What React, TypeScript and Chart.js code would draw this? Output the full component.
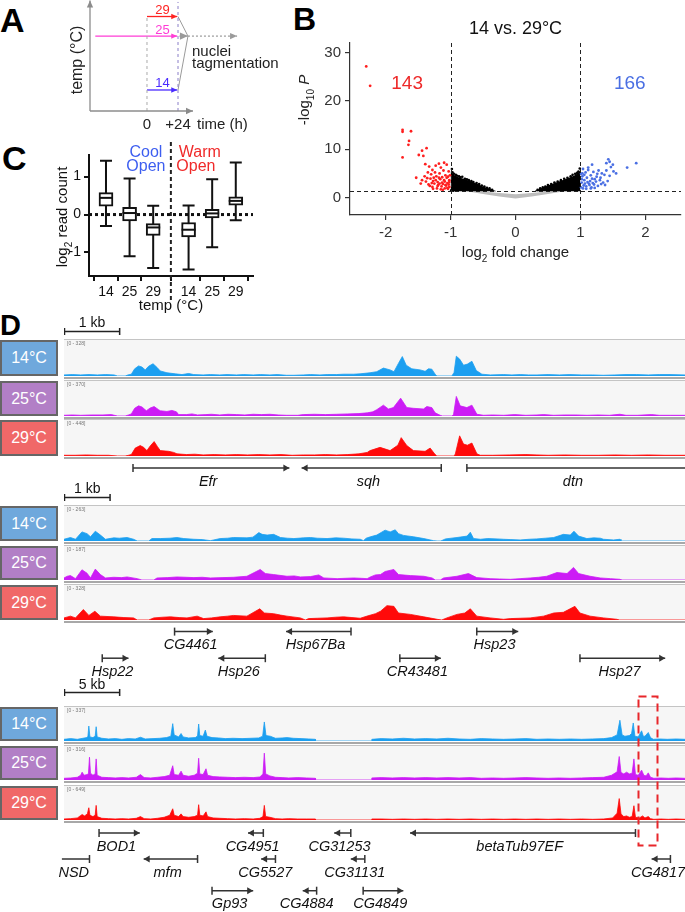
import React, { useEffect, useRef } from 'react';
import { Chart, registerables } from 'chart.js';
Chart.register(...registerables);

const FONT = '"Liberation Sans", Arial, Helvetica, sans-serif';

/* ================= Panel A (schematic) ================= */
const A_TEMPS = [29, 25, 14];
const A_TEMP_COLORS = ['#ff2222', '#ff3cd6', '#4a2bff'];
const A_TEMP_START_H = [0, -40, 0];
const A_SHIFT_END_H = 24;
const A_MERGE_H = 31.7;
const A_TAG_END_H = 69.7;
const A_AXIS_END_H = 35.6;
const A_XTICK_VALUES = [0, 24];
const A_XTICK_LABELS = ['0', '+24'];

/* ================= Panel B (volcano) ================= */
const B_XTICKS = [-2, -1, 0, 1, 2];
const B_YTICKS = [0, 10, 20, 30];
const B_FC_THRESHOLDS = [-1, 1];
const B_P_THRESHOLD = 1.3;
const B_COUNTS = ['143', '166'];
const B_COUNT_POS = [[-1.67, 23.8], [1.76, 23.8]];
const B_RED = [
  [-2.30, 27.1], [-2.24, 23.1], [-1.74, 14.0], [-1.74, 13.6], [-1.61, 13.7], [-1.64, 11.7], [-1.65, 10.9], [-1.74, 8.3],
  [-1.44, 9.7], [-1.37, 10.2], [-1.49, 8.8], [-1.42, 8.6], [-1.39, 6.9], [-1.53, 4.1], [-1.44, 3.6], [-1.33, 6.4],
  [-1.28, 5.7], [-1.18, 7.0], [-1.10, 7.2], [-1.23, 6.6], [-1.15, 6.2], [-1.06, 6.8], [-1.30, 4.8], [-1.35, 5.2],
  [-1.27, 3.4], [-1.22, 4.4], [-1.20, 3.2], [-1.17, 5.0], [-1.13, 4.2], [-1.12, 2.8], [-1.10, 3.6], [-1.08, 4.6],
  [-1.05, 3.0], [-1.03, 5.4], [-1.02, 2.2], [-1.04, 1.8], [-1.07, 2.5], [-1.09, 1.9], [-1.14, 2.3], [-1.16, 3.8],
  [-1.19, 2.6], [-1.21, 1.9], [-1.25, 2.9], [-1.28, 2.2], [-1.31, 3.9], [-1.34, 2.7], [-1.38, 3.3], [-1.40, 4.4],
  [-1.46, 2.9], [-1.36, 4.0], [-1.24, 5.2], [-1.11, 5.6], [-1.06, 4.1], [-1.02, 3.6], [-1.01, 4.6], [-1.03, 2.7],
  [-1.13, 3.1], [-1.18, 4.1], [-1.26, 4.1], [-1.29, 3.0], [-1.09, 3.3], [-1.05, 2.0], [-1.20, 2.4], [-1.15, 1.7],
  [-1.32, 2.4], [-1.23, 3.6], [-1.08, 2.6], [-1.12, 1.6], [-1.17, 2.9], [-1.27, 1.8], [-1.02, 3.2], [-1.04, 4.3]
];
const B_BLUE = [
  [1.86, 7.1], [1.72, 6.2], [1.43, 7.9], [1.45, 7.4], [1.40, 7.1], [1.50, 6.8], [1.51, 5.4], [1.47, 6.3],
  [1.18, 6.8], [1.12, 6.2], [1.33, 5.0], [1.28, 5.6], [1.37, 4.7], [1.25, 4.3], [1.22, 3.8], [1.20, 5.3],
  [1.16, 4.6], [1.15, 3.4], [1.13, 2.9], [1.10, 4.1], [1.08, 5.2], [1.06, 3.6], [1.05, 2.5], [1.03, 4.4],
  [1.02, 3.1], [1.01, 2.1], [1.04, 1.9], [1.07, 2.9], [1.09, 2.3], [1.11, 3.2], [1.14, 2.6], [1.17, 2.1],
  [1.19, 3.0], [1.21, 2.7], [1.24, 3.3], [1.27, 2.4], [1.30, 3.6], [1.32, 2.8], [1.35, 3.1], [1.38, 2.6],
  [1.42, 3.4], [1.26, 4.9], [1.12, 5.7], [1.04, 5.9], [1.03, 5.0], [1.06, 4.7], [1.09, 1.8], [1.16, 1.9],
  [1.22, 2.0], [1.45, 4.5], [1.40, 5.6], [1.55, 5.0], [1.31, 4.1], [1.18, 3.9], [1.02, 3.8], [1.01, 4.9]
];
const B_BLACK = [
  [-0.98, 5.9], [-0.97, 5.2], [-0.95, 4.9], [-0.92, 4.7], [-0.90, 4.5], [-0.87, 4.4], [-0.85, 4.2], [-0.82, 4.3],
  [-0.78, 3.9], [-0.75, 3.8], [-0.72, 3.6], [-0.68, 3.4], [-0.65, 3.2], [-0.60, 3.0], [-0.56, 2.8], [-0.52, 2.5],
  [-0.48, 2.3], [-0.44, 2.0], [-0.40, 1.9], [-0.36, 1.6], [-0.99, 1.5], [-0.96, 1.4],
  [0.34, 1.6], [0.38, 1.9], [0.42, 2.1], [0.46, 2.3], [0.50, 2.6], [0.55, 2.8], [0.60, 3.1], [0.65, 3.3],
  [0.70, 3.6], [0.75, 3.9], [0.80, 4.1], [0.85, 4.4], [0.88, 4.7], [0.92, 4.9], [0.95, 5.1], [0.97, 5.4],
  [0.99, 6.0], [0.98, 4.8]
];
const B_BAND_L_X = [-1.0, -0.95, -0.9, -0.8, -0.7, -0.6, -0.5, -0.4, -0.3];
const B_BAND_L_UP = [5.4, 4.7, 4.3, 3.9, 3.4, 2.9, 2.3, 1.8, 1.35];
const B_BAND_R_X = [0.3, 0.4, 0.5, 0.6, 0.7, 0.8, 0.9, 0.95, 1.0];
const B_BAND_R_UP = [1.4, 2.0, 2.5, 3.0, 3.5, 4.0, 4.5, 5.0, 5.6];
const B_GREY_X = [-0.75, -0.5, -0.25, 0, 0.25, 0.5, 0.75];
const B_GREY_UP = [1.35, 1.25, 0.95, 0.7, 0.95, 1.25, 1.35];
const B_GREY_LO = [1.3, 0.75, 0.2, -0.2, 0.2, 0.75, 1.3];

/* ================= Panel C (box plots) ================= */
const C_POS = [1, 2, 3, 4.5, 5.5, 6.5];
const C_TEMP_LABELS = ['14', '25', '29', '14', '25', '29'];
const C_MIN = [-0.30, -1.10, -1.41, -1.45, -0.86, -0.15];
const C_Q1 = [0.22, -0.17, -0.55, -0.59, -0.09, 0.25];
const C_MED = [0.44, 0.04, -0.34, -0.40, 0.03, 0.36];
const C_Q3 = [0.58, 0.19, -0.24, -0.21, 0.14, 0.47];
const C_MAX = [1.42, 0.95, 0.23, 0.24, 0.93, 1.37];
const C_YTICKS = [-1, 0, 1];
const C_SPLIT = 3.75;

/* ================= Panel D (genome tracks) ================= */
const TEMP_NAMES = ['14°C', '25°C', '29°C'];
const TEMP_BOX_COLORS = ['#6fa8dc', '#b27fc6', '#f06868'];
const TEMP_COV_COLORS = ['#1c9ff0', '#cc1cf5', '#ff0a0a'];

const R1_COV_14 = [[0,3],[0.15,4],[0.3,3],[0.45,4],[0.6,3],[0.75,4],[0.9,3],[0.96,0],[1.1,0],[1.15,3],[1.21,5],[1.27,20],[1.34,28],[1.40,25],[1.46,17],[1.52,27],[1.60,34],[1.67,24],[1.73,14],[1.85,9],[2.0,6],[2.12,4],[2.24,7],[2.33,4],[2.5,3],[2.63,4],[2.8,3],[2.93,4],[3.1,3],[3.23,4],[3.4,3],[3.53,4],[3.7,3],[3.83,4],[4.0,2],[4.13,2],[4.3,3],[4.43,4],[4.6,3],[4.73,4],[4.9,4],[5.02,5],[5.2,5],[5.32,6],[5.5,9],[5.62,12],[5.74,22],[5.86,17],[5.93,12],[6.01,35],[6.08,54],[6.15,30],[6.25,20],[6.40,17],[6.49,13],[6.55,20],[6.61,19],[6.67,5],[6.70,0],[6.97,0],[7.01,10],[7.05,55],[7.11,47],[7.18,30],[7.25,33],[7.33,41],[7.41,15],[7.51,5],[7.66,3],[7.9,4],[8.05,3],[8.2,4],[8.35,3],[8.5,3],[8.7,4],[8.9,3],[9.09,4],[9.3,3],[9.5,3],[9.69,2],[9.9,3],[10.1,4],[10.29,4],[10.5,3],[10.7,4],[10.89,4],[11.16,3]];
const R1_COV_25 = [[0,2],[0.15,3],[0.3,2],[0.5,3],[0.7,3],[0.85,4],[0.96,0],[1.1,0],[1.16,3],[1.21,6],[1.27,22],[1.34,29],[1.40,26],[1.48,15],[1.55,23],[1.62,27],[1.70,18],[1.73,15],[1.85,13],[1.94,16],[2.02,12],[2.06,4],[2.2,4],[2.3,6],[2.4,3],[2.55,4],[2.65,5],[2.8,3],[2.95,5],[3.1,4],[3.25,3],[3.4,5],[3.55,4],[3.7,5],[3.85,3],[4.0,2],[4.2,2],[4.3,4],[4.5,5],[4.7,4],[4.9,5],[5.1,6],[5.3,7],[5.45,9],[5.55,12],[5.62,18],[5.74,31],[5.83,20],[5.92,24],[6.05,51],[6.16,24],[6.28,22],[6.46,20],[6.52,27],[6.61,24],[6.67,9],[6.76,2],[6.80,0],[6.97,0],[7.0,4],[7.05,56],[7.12,29],[7.24,24],[7.33,31],[7.42,5],[7.54,2],[7.7,3],[7.9,2],[8.1,4],[8.3,2],[8.5,3],[8.62,4],[8.8,2],[9.0,3],[9.2,3],[9.4,2],[9.6,3],[9.8,2],[9.99,5],[10.1,2],[10.3,2],[10.56,4],[10.7,2],[10.9,2],[11.16,2]];
const R1_COV_29 = [[0,2],[0.2,2],[0.4,3],[0.6,2],[0.8,2],[0.96,0],[1.1,0],[1.16,2],[1.21,4],[1.28,22],[1.37,29],[1.43,24],[1.49,15],[1.55,28],[1.62,40],[1.68,26],[1.73,15],[1.88,13],[1.97,10],[2.03,6],[2.2,4],[2.35,5],[2.5,3],[2.7,4],[2.9,3],[3.1,4],[3.3,3],[3.5,4],[3.7,3],[3.9,4],[4.1,2],[4.3,3],[4.5,3],[4.7,4],[4.9,3],[5.1,4],[5.3,6],[5.45,10],[5.50,15],[5.68,24],[5.86,15],[6.00,30],[6.06,51],[6.16,29],[6.28,15],[6.49,13],[6.58,22],[6.66,6],[6.70,0],[7.0,0],[7.03,4],[7.11,56],[7.18,33],[7.25,30],[7.33,36],[7.42,6],[7.48,2],[7.7,2],[8.0,3],[8.3,4],[8.5,3],[8.7,2],[9.0,3],[9.3,2],[9.6,2],[9.9,3],[10.2,2],[10.5,3],[10.8,2],[11.16,2]];

const R2_COV_14 = [[0,5],[0.14,10],[0.25,5],[0.39,26],[0.50,21],[0.575,12],[0.68,28],[0.79,17],[0.90,5],[1.08,9],[1.2,8],[1.37,10],[1.51,5],[1.59,0],[1.84,0],[1.91,7],[2.09,7],[2.3,8],[2.45,10],[2.6,7],[2.82,5],[3.0,4],[3.18,1],[3.39,7],[3.55,8],[3.68,10],[3.97,9],[4.1,11],[4.23,24],[4.30,19],[4.41,17],[4.55,19],[4.70,10],[4.85,8],[4.99,7],[5.2,9],[5.35,10],[5.5,8],[5.71,7],[5.9,9],[6.07,8],[6.25,6],[6.43,5],[6.50,1],[6.56,8],[6.65,12],[6.79,17],[6.97,31],[7.08,26],[7.19,32],[7.26,21],[7.37,16],[7.59,12],[7.81,7],[8.02,1],[8.10,0],[8.18,0],[8.28,6],[8.53,10],[8.75,14],[8.82,25],[8.89,7],[9.04,5],[9.2,7],[9.40,6],[9.54,5],[9.7,4],[9.90,3],[10.1,5],[10.26,6],[10.45,8],[10.63,10],[10.84,19],[10.99,17],[11.07,28],[11.17,14],[11.35,7],[11.5,9],[11.64,8],[11.71,5],[11.93,3],[12.07,5],[12.09,0],[13.48,0]];
const R2_COV_25 = [[0,6],[0.07,11],[0.14,13],[0.25,4],[0.39,30],[0.50,20],[0.575,6],[0.68,32],[0.79,16],[0.90,6],[1.08,8],[1.25,7],[1.37,9],[1.59,4],[1.69,0],[1.95,0],[2.02,6],[2.25,7],[2.45,9],[2.65,8],[2.82,7],[3.0,8],[3.18,6],[3.45,7],[3.68,8],[3.97,11],[4.26,31],[4.37,19],[4.55,16],[4.84,11],[5.0,12],[5.13,9],[5.35,10],[5.53,15],[5.64,6],[5.93,4],[6.1,5],[6.29,6],[6.45,5],[6.58,4],[6.65,9],[6.76,15],[6.87,16],[6.97,25],[7.16,31],[7.26,16],[7.52,13],[7.81,11],[7.99,6],[8.06,0],[8.17,0],[8.24,6],[8.53,11],[8.78,19],[8.96,7],[9.25,4],[9.45,3],[9.69,2],[9.9,4],[10.12,6],[10.3,8],[10.48,11],[10.70,22],[10.92,19],[11.06,37],[11.17,19],[11.42,11],[11.64,6],[11.86,4],[12.07,2],[12.09,0],[13.48,0]];
const R2_COV_29 = [[0,6],[0.14,11],[0.25,6],[0.42,30],[0.54,13],[0.67,25],[0.79,11],[1.08,9],[1.3,7],[1.51,6],[1.59,0],[1.84,0],[1.95,6],[2.15,8],[2.31,9],[2.5,7],[2.67,6],[2.89,11],[3.03,4],[3.2,6],[3.39,9],[3.55,11],[3.68,13],[3.97,11],[4.25,32],[4.35,20],[4.55,18],[4.7,14],[4.84,11],[5.13,6],[5.24,0],[5.31,4],[5.5,5],[5.71,6],[5.9,8],[6.07,9],[6.25,7],[6.43,5],[6.6,12],[6.76,18],[6.87,25],[7.01,41],[7.16,39],[7.26,20],[7.52,16],[7.81,9],[8.10,2],[8.20,0],[8.31,6],[8.53,16],[8.70,20],[8.82,32],[8.96,11],[9.25,6],[9.54,2],[9.69,4],[9.9,5],[10.12,6],[10.41,11],[10.63,20],[10.84,22],[11.09,39],[11.20,20],[11.42,11],[11.71,6],[12.0,2],[12.06,0],[13.48,0]];

const R3_COV_14 = [[0,5],[0.6,7],[1.2,5],[1.7,8],[2.05,10],[2.15,14],[2.23,44],[2.33,12],[2.6,10],[2.8,14],[2.89,42],[2.98,12],[3.4,8],[4.0,6],[4.6,7],[5.2,5],[5.8,7],[6.4,6],[6.87,11],[7.3,6],[8.0,7],[8.6,8],[9.2,10],[9.6,14],[9.77,51],[9.9,18],[10.3,12],[10.52,22],[10.7,12],[11.2,9],[11.8,10],[12.0,15],[12.1,50],[12.2,16],[12.5,14],[12.7,32],[12.85,14],[13.3,10],[13.9,9],[14.5,7],[15.2,8],[16,7],[16.8,8],[17.5,9],[17.85,14],[18.0,56],[18.15,16],[18.54,14],[19,8],[19.6,9],[20.03,10],[20.6,8],[21.3,7],[22.0,6],[22.58,5],[22.6,0],[27.64,0],[27.66,5],[28.5,7],[29.5,6],[30.5,8],[31.5,6],[32.5,7],[33.5,6],[34.5,8],[35.5,6],[36.5,5],[37.5,7],[38.5,6],[39.5,5],[40.5,6],[41.5,7],[42.5,5],[43.5,6],[44.5,5],[45.5,6],[46.5,5],[47.5,6],[48.5,7],[49.2,10],[49.7,18],[49.95,61],[50.15,18],[50.4,14],[50.8,16],[51.0,22],[51.15,53],[51.3,14],[51.6,12],[51.9,30],[52.05,14],[52.2,14],[52.5,25],[52.7,10],[52.95,5],[53.5,6],[54.2,5],[55,6],[55.8,5]];
const R3_COV_25 = [[0,5],[0.6,6],[1.2,8],[1.5,14],[1.63,23],[1.8,14],[2.1,16],[2.2,20],[2.29,67],[2.38,20],[2.6,14],[2.8,18],[2.89,62],[2.98,14],[3.4,8],[4.0,7],[4.6,6],[5.2,7],[5.8,6],[6.5,8],[6.87,16],[7.2,7],[7.8,6],[8.4,8],[9.0,10],[9.5,14],[9.77,42],[9.9,16],[10.3,14],[10.52,26],[10.7,14],[11.2,11],[11.7,14],[12.0,20],[12.1,64],[12.2,18],[12.5,16],[12.76,33],[12.9,14],[13.4,10],[14.0,9],[14.7,8],[15.4,7],[16.2,8],[17.0,7],[17.6,9],[17.88,18],[18.0,79],[18.12,18],[18.5,12],[19.0,8],[19.6,7],[20.2,6],[21,7],[21.8,6],[22.58,5],[22.6,0],[27.64,0],[27.66,6],[28.5,7],[29.5,6],[30.5,7],[31.5,6],[32.5,7],[33.5,6],[34.5,7],[35.5,6],[36.5,7],[37.5,5],[38.5,6],[39.5,5],[40.5,6],[41.5,7],[42.5,6],[43.5,5],[44.5,6],[45.5,5],[46.5,6],[47.5,7],[48.5,8],[49.2,14],[49.7,24],[49.89,69],[50.05,22],[50.3,18],[50.55,23],[50.8,18],[51.05,20],[51.21,62],[51.35,16],[51.6,14],[51.9,29],[52.1,14],[52.3,12],[52.5,21],[52.7,8],[53.0,5],[53.6,6],[54.3,5],[55,6],[55.8,5]];
const R3_COV_29 = [[0,3],[0.6,4],[1.2,6],[1.45,12],[1.63,16],[1.85,12],[2.1,18],[2.23,36],[2.33,14],[2.6,10],[2.8,14],[2.89,43],[2.98,10],[3.4,5],[4.0,4],[4.6,3],[5.2,4],[5.8,3],[6.5,5],[6.87,10],[7.2,4],[7.8,3],[8.4,5],[9.0,8],[9.5,14],[9.77,33],[9.9,14],[10.3,10],[10.52,18],[10.7,10],[11.2,8],[11.7,10],[12.0,14],[12.1,45],[12.2,14],[12.5,12],[12.76,24],[12.9,10],[13.4,6],[14.0,5],[14.7,4],[15.4,3],[16.2,4],[17.0,3],[17.6,5],[17.88,10],[18.0,43],[18.12,10],[18.5,8],[19.0,4],[19.6,3],[20.2,4],[21,3],[21.8,3],[22.58,3],[22.6,0],[27.64,0],[27.66,3],[28.5,3],[29.5,2],[30.5,3],[31.5,2],[32.5,3],[33.5,2],[34.5,3],[35.5,2],[36.5,3],[37.5,2],[38.5,3],[39.5,2],[40.5,3],[41.5,2],[42.5,3],[43.5,2],[44.5,3],[45.5,2],[46.5,3],[47.5,2],[48.5,3],[49.3,6],[49.7,20],[49.89,63],[50.05,18],[50.3,10],[50.55,12],[50.8,8],[51.05,10],[51.21,42],[51.35,8],[51.7,6],[51.99,12],[52.2,6],[52.5,10],[52.7,4],[53.0,2],[53.6,3],[54.3,2],[55,3],[55.8,2]];

const R1_RANGES = ['[0 - 328]', '[0 - 370]', '[0 - 448]'];
const R2_RANGES = ['[0 - 263]', '[0 - 187]', '[0 - 328]'];
const R3_RANGES = ['[0 - 337]', '[0 - 316]', '[0 - 649]'];

const R1_GENE_NAMES = ['Efr', 'sqh', 'dtn'];
const R1_GENE_START = [1.24, 4.27, 7.24];
const R1_GENE_END = [4.05, 6.78, 11.5];
const R1_GENE_ARROW = ['R', 'L', ''];
const R1_GENE_ROW = [1, 1, 1];

const R2_GENE_NAMES = ['CG4461', 'Hsp67Ba', 'Hsp23', 'Hsp22', 'Hsp26', 'CR43481', 'Hsp27'];
const R2_GENE_START = [2.40, 4.82, 8.96, 0.83, 3.35, 7.29, 11.20];
const R2_GENE_END = [3.23, 6.23, 9.86, 1.40, 4.37, 8.18, 13.05];
const R2_GENE_ARROW = ['R', 'L', 'R', 'R', 'L', 'R', 'R'];
const R2_GENE_ROW = [1, 1, 1, 2, 2, 2, 2];

const R3_GENE_NAMES = ['BOD1', 'CG4951', 'CG31253', 'betaTub97EF', 'NSD', 'mfm', 'CG5527', 'CG31131', 'CG4817', 'Gp93', 'CG4884', 'CG4849'];
const R3_GENE_START = [3.15, 16.53, 24.28, 31.09, -0.19, 7.16, 17.71, 25.77, 52.80, 13.30, 21.45, 26.88];
const R3_GENE_END = [6.81, 17.91, 25.77, 51.35, 2.29, 12.0, 19.0, 27.03, 54.49, 17.0, 22.70, 30.49];
const R3_GENE_ARROW = ['R', 'L', 'L', 'L', '', 'L', 'L', 'L', 'L', 'R', 'L', 'R'];
const R3_GENE_ROW = [1, 1, 1, 1, 2, 2, 2, 2, 2, 3.22, 3.22, 3.22];

/* ================= helpers ================= */
const baseOptions = () => ({
  responsive: false,
  maintainAspectRatio: false,
  animation: false,
  devicePixelRatio: 1,
  events: [],
  plugins: { legend: { display: false }, tooltip: { enabled: false }, title: { display: false } },
});

type Seg = { t: string; sub?: boolean; italic?: boolean };
function drawRich(ctx: any, segs: Seg[], x: number, y: number, size: number, rot = 0, align = 'center', color = '#222') {
  ctx.save();
  ctx.translate(x, y);
  ctx.rotate(rot);
  ctx.fillStyle = color;
  ctx.textBaseline = 'alphabetic';
  ctx.textAlign = 'left';
  const fonts = segs.map((s) => `${s.italic ? 'italic ' : ''}${s.sub ? Math.round(size * 0.68) : size}px ${FONT}`);
  let total = 0;
  const widths = segs.map((s, i) => {
    ctx.font = fonts[i];
    const w = ctx.measureText(s.t).width;
    total += w;
    return w;
  });
  let cx = align === 'center' ? -total / 2 : 0;
  const base = size * 0.36;
  segs.forEach((s, i) => {
    ctx.font = fonts[i];
    ctx.fillText(s.t, cx, base + (s.sub ? size * 0.3 : 0));
    cx += widths[i];
  });
  ctx.restore();
}

const arrowPlugin = {
  id: 'arrowHeads',
  afterDatasetsDraw(chart: any) {
    const ctx = chart.ctx;
    chart.data.datasets.forEach((ds: any, i: number) => {
      if (!ds.arrow) return;
      const pts = chart.getDatasetMeta(i).data;
      const a = pts[pts.length - 2];
      const b = pts[pts.length - 1];
      const ang = Math.atan2(b.y - a.y, b.x - a.x);
      const s = ds.arrow;
      ctx.save();
      ctx.translate(b.x, b.y);
      ctx.rotate(ang);
      ctx.fillStyle = ds.arrowColor || ds.borderColor;
      ctx.beginPath();
      ctx.moveTo(0, 0);
      ctx.lineTo(-s, -s * 0.45);
      ctx.lineTo(-s, s * 0.45);
      ctx.closePath();
      ctx.fill();
      ctx.restore();
    });
  },
};

function ChartCanvas({ x, y, w, h, make }: any) {
  const ref = useRef<HTMLCanvasElement | null>(null);
  useEffect(() => {
    const chart = new Chart(ref.current as any, make());
    return () => chart.destroy();
  }, []);
  return (
    <canvas
      ref={ref}
      width={w}
      height={h}
      style={{ position: 'absolute', left: x, top: y, width: w, height: h, display: 'block' }}
    />
  );
}

/* ================= Panel A config ================= */
const A_X_MIN = -44.1, A_X_MAX = 79.7, A_Y_MIN = 9.71, A_Y_MAX = 32.37;
function makeA() {
  const seg = (pts: number[][], color: string, width: number, dash: number[] | null, arrow?: number, arrowColor?: string) => ({
    data: pts.map(([x, y]) => ({ x, y })),
    borderColor: color,
    borderWidth: width,
    borderDash: dash || [],
    pointRadius: 0,
    fill: false,
    tension: 0,
    clip: false,
    arrow,
    arrowColor,
  });
  const ds: any[] = [];
  ds.push(seg([[A_X_MIN, A_Y_MIN], [A_AXIS_END_H, A_Y_MIN]], '#8c8c8c', 1.3, null, 7));
  ds.push(seg([[A_X_MIN, A_Y_MIN], [A_X_MIN, A_Y_MAX - 0.1]], '#8c8c8c', 1.3, null, 7));
  ds.push(seg([[0, A_Y_MIN], [0, A_TEMPS[0]]], '#aaaaaa', 1, [3, 3]));
  ds.push(seg([[A_SHIFT_END_H, A_Y_MIN], [A_SHIFT_END_H, A_Y_MAX - 0.4]], '#8a7fc8', 1, [3, 3]));
  A_TEMPS.forEach((t, i) => {
    ds.push(seg([[A_TEMP_START_H[i], t], [A_SHIFT_END_H - 0.6, t]], A_TEMP_COLORS[i], 1.3, null, 6));
  });
  ds.push(seg([[A_SHIFT_END_H, A_TEMPS[0]], [A_MERGE_H, A_TEMPS[1]]], '#9a9a9a', 1, null));
  ds.push(seg([[A_SHIFT_END_H, A_TEMPS[2]], [A_MERGE_H, A_TEMPS[1]]], '#9a9a9a', 1, null));
  ds.push(seg([[A_SHIFT_END_H + 1, A_TEMPS[1]], [A_MERGE_H, A_TEMPS[1]]], '#9a9a9a', 1, null, 8));
  ds.push(seg([[A_MERGE_H, A_TEMPS[1]], [A_TAG_END_H, A_TEMPS[1]]], '#9a9a9a', 1.2, [2, 2], 7));

  const textPlugin = {
    id: 'aText',
    afterDraw(chart: any) {
      const { ctx, scales, chartArea } = chart;
      const x = scales.x, y = scales.y;
      ctx.save();
      ctx.textAlign = 'center';
      ctx.textBaseline = 'alphabetic';
      A_TEMPS.forEach((t, i) => {
        ctx.fillStyle = A_TEMP_COLORS[i];
        ctx.font = `13px ${FONT}`;
        ctx.fillText(String(t), x.getPixelForValue(A_SHIFT_END_H / 2), y.getPixelForValue(t) - 2.5);
      });
      ctx.fillStyle = '#222';
      ctx.font = `15px ${FONT}`;
      A_XTICK_VALUES.forEach((v, i) => {
        ctx.fillText(A_XTICK_LABELS[i], x.getPixelForValue(v), chartArea.bottom + 17.5);
      });
      ctx.textAlign = 'left';
      ctx.fillText('time (h)', x.getPixelForValue(A_AXIS_END_H) + 4, chartArea.bottom + 17.5);
      const mx = x.getPixelForValue(A_MERGE_H) + 4;
      const my = y.getPixelForValue(A_TEMPS[1]);
      ctx.fillText('nuclei', mx, my + 20);
      ctx.fillText('tagmentation', mx, my + 32);
      ctx.translate(chartArea.left - 12, 60);
      ctx.rotate(-Math.PI / 2);
      ctx.textAlign = 'center';
      ctx.textBaseline = 'middle';
      ctx.font = `16px ${FONT}`;
      ctx.fillText('temp (°C)', 0, 0);
      ctx.restore();
    },
  };

  return {
    type: 'line',
    data: { datasets: ds },
    options: {
      ...baseOptions(),
      layout: { padding: { left: 90, right: 40, top: 0, bottom: 24 } },
      scales: {
        x: { type: 'linear', display: false, min: A_X_MIN, max: A_X_MAX },
        y: { type: 'linear', display: false, min: A_Y_MIN, max: A_Y_MAX },
      },
    },
    plugins: [arrowPlugin, textPlugin],
  };
}

/* ================= Panel B config ================= */
function makeB() {
  const pts = (arr: number[][]) => arr.map(([x, y]) => ({ x, y }));
  const band = (xs: number[], ys: number[]) => xs.map((x, i) => ({ x, y: ys[i] }));
  const datasets: any[] = [
    { type: 'line', data: band(B_GREY_X, B_GREY_UP), borderWidth: 0, pointRadius: 0, fill: false, order: 9, borderColor: 'rgba(0,0,0,0)' },
    { type: 'line', data: band(B_GREY_X, B_GREY_LO), borderWidth: 0, pointRadius: 0, fill: '-1', order: 8, backgroundColor: '#bdbdbd', borderColor: 'rgba(0,0,0,0)' },
    { type: 'line', data: band(B_BAND_L_X, B_BAND_L_UP), borderWidth: 0, pointRadius: 0, fill: false, order: 7, borderColor: 'rgba(0,0,0,0)' },
    { type: 'line', data: band(B_BAND_L_X, B_BAND_L_X.map(() => B_P_THRESHOLD)), borderWidth: 0, pointRadius: 0, fill: '-1', order: 6, backgroundColor: '#000', borderColor: 'rgba(0,0,0,0)' },
    { type: 'line', data: band(B_BAND_R_X, B_BAND_R_UP), borderWidth: 0, pointRadius: 0, fill: false, order: 5, borderColor: 'rgba(0,0,0,0)' },
    { type: 'line', data: band(B_BAND_R_X, B_BAND_R_X.map(() => B_P_THRESHOLD)), borderWidth: 0, pointRadius: 0, fill: '-1', order: 4, backgroundColor: '#000', borderColor: 'rgba(0,0,0,0)' },
    { data: pts(B_BLACK), pointRadius: 1.3, pointBackgroundColor: '#000', pointBorderWidth: 0, order: 3 },
    { data: pts(B_RED), pointRadius: 1.4, pointBackgroundColor: '#ff1f1f', pointBorderWidth: 0, order: 2 },
    { data: pts(B_BLUE), pointRadius: 1.4, pointBackgroundColor: '#4a6fe3', pointBorderWidth: 0, order: 1 },
  ];
  const axisCommon = {
    grid: { display: true, drawOnChartArea: false, drawTicks: true, tickLength: 5, color: '#333', lineWidth: 1.2 },
    border: { display: true, color: '#333', width: 1.2 },
    ticks: { font: { family: FONT, size: 15 }, color: '#333', padding: 4 },
  };
  const plugin = {
    id: 'bText',
    afterDatasetsDraw(chart: any) {
      const { ctx, scales, chartArea } = chart;
      const x = scales.x, y = scales.y;
      ctx.save();
      ctx.strokeStyle = '#222';
      ctx.lineWidth = 1;
      ctx.setLineDash([4, 3]);
      B_FC_THRESHOLDS.forEach((v) => {
        const px = Math.round(x.getPixelForValue(v)) + 0.5;
        ctx.beginPath();
        ctx.moveTo(px, chartArea.top);
        ctx.lineTo(px, chartArea.bottom);
        ctx.stroke();
      });
      const py = Math.round(y.getPixelForValue(B_P_THRESHOLD)) + 0.5;
      ctx.beginPath();
      ctx.moveTo(chartArea.left, py);
      ctx.lineTo(chartArea.right, py);
      ctx.stroke();
      ctx.restore();
    },
    afterDraw(chart: any) {
      const { ctx, scales, chartArea } = chart;
      const x = scales.x, y = scales.y;
      const cx = (chartArea.left + chartArea.right) / 2;
      drawRich(ctx, [{ t: '14 vs. 29°C' }], cx, 28, 18, 0, 'center', '#111');
      const colors = ['#ee2a2a', '#4a6fe3'];
      B_COUNTS.forEach((c, i) => {
        drawRich(ctx, [{ t: c }], x.getPixelForValue(B_COUNT_POS[i][0]), y.getPixelForValue(B_COUNT_POS[i][1]), 19, 0, 'center', colors[i]);
      });
      drawRich(ctx, [{ t: 'log' }, { t: '2', sub: true }, { t: ' fold change' }], cx, 252, 15, 0, 'center', '#222');
      drawRich(ctx, [{ t: '-log' }, { t: '10', sub: true }, { t: ' ' }, { t: 'P', italic: true }], 14, 100, 15, -Math.PI / 2, 'center', '#222');
    },
  };
  return {
    type: 'scatter',
    data: { datasets },
    options: {
      ...baseOptions(),
      layout: { padding: { left: 0, right: 0, top: 43, bottom: 0 } },
      scales: {
        x: {
          type: 'linear', min: -2.55, max: 2.55, ...axisCommon,
          afterBuildTicks: (s: any) => { s.ticks = B_XTICKS.map((v) => ({ value: v })); },
          afterFit: (s: any) => { s.height = 55; },
        },
        y: {
          type: 'linear', min: -3.6, max: 31.94, ...axisCommon,
          afterBuildTicks: (s: any) => { s.ticks = B_YTICKS.map((v) => ({ value: v })); },
          afterFit: (s: any) => { s.width = 60; },
        },
      },
    },
    plugins: [plugin],
  };
}

/* ================= Panel C config ================= */
function makeC() {
  const axisCommon = {
    grid: { display: true, drawOnChartArea: false, drawTicks: true, tickLength: 5, color: '#111', lineWidth: 2 },
    border: { display: true, color: '#111', width: 2 },
    ticks: { font: { family: FONT, size: 14 }, color: '#111' },
  };
  const plugin = {
    id: 'cBox',
    beforeDatasetsDraw(chart: any) {
      const { ctx, scales, chartArea } = chart;
      const x = scales.x, y = scales.y;
      ctx.save();
      ctx.strokeStyle = '#111';
      ctx.lineWidth = 3;
      ctx.setLineDash([3, 3]);
      const y0 = y.getPixelForValue(0);
      ctx.beginPath();
      ctx.moveTo(chartArea.left, y0);
      ctx.lineTo(chartArea.right, y0);
      ctx.stroke();
      ctx.setLineDash([]);
      ctx.lineWidth = 2;
      C_POS.forEach((p, i) => {
        const px = x.getPixelForValue(p);
        const lo = y.getPixelForValue(C_MIN[i]);
        const hi = y.getPixelForValue(C_MAX[i]);
        ctx.beginPath();
        ctx.moveTo(px, lo); ctx.lineTo(px, hi);
        ctx.moveTo(px - 6, lo); ctx.lineTo(px + 6, lo);
        ctx.moveTo(px - 6, hi); ctx.lineTo(px + 6, hi);
        ctx.stroke();
      });
      ctx.restore();
    },
    afterDatasetsDraw(chart: any) {
      const { ctx, scales } = chart;
      const x = scales.x, y = scales.y;
      ctx.save();
      ctx.strokeStyle = '#111';
      ctx.lineWidth = 2;
      C_POS.forEach((p, i) => {
        const px = x.getPixelForValue(p);
        const m = y.getPixelForValue(C_MED[i]);
        ctx.beginPath();
        ctx.moveTo(px - 7, m); ctx.lineTo(px + 7, m);
        ctx.stroke();
      });
      ctx.restore();
    },
    afterDraw(chart: any) {
      const { ctx, scales, chartArea } = chart;
      const x = scales.x;
      const sx = x.getPixelForValue(C_SPLIT);
      ctx.save();
      ctx.strokeStyle = '#222';
      ctx.lineWidth = 2;
      ctx.setLineDash([4, 3]);
      ctx.beginPath();
      ctx.moveTo(sx, 7);
      ctx.lineTo(sx, chartArea.bottom + 24);
      ctx.stroke();
      ctx.restore();
      drawRich(ctx, [{ t: 'Cool' }], sx - 25, 16.7, 16, 0, 'center', '#3d5ef0');
      drawRich(ctx, [{ t: 'Open' }], sx - 25, 30.7, 16, 0, 'center', '#3d5ef0');
      drawRich(ctx, [{ t: 'Warm' }], sx + 29, 16.7, 16, 0, 'center', '#f02a2a');
      drawRich(ctx, [{ t: 'Open' }], sx + 25, 30.7, 16, 0, 'center', '#f02a2a');
      drawRich(ctx, [{ t: 'temp (°C)' }], (chartArea.left + chartArea.right) / 2, 170, 15, 0, 'center', '#111');
      drawRich(ctx, [{ t: 'log' }, { t: '2', sub: true }, { t: ' read count' }], 62, 82, 15, -Math.PI / 2, 'center', '#111');
    },
  };
  return {
    type: 'bar',
    data: {
      datasets: [{
        data: C_POS.map((p, i) => ({ x: p, y: [C_Q1[i], C_Q3[i]] })),
        backgroundColor: '#fff',
        borderColor: '#111',
        borderWidth: 2,
        borderSkipped: false,
        barThickness: 14,
      }],
    },
    options: {
      ...baseOptions(),
      layout: { padding: { left: 0, right: 37, top: 20, bottom: 0 } },
      scales: {
        x: {
          type: 'linear', min: 0.28, max: 7.23, offset: false, ...axisCommon,
          ticks: { ...axisCommon.ticks, padding: 3, callback: (v: number) => { const i = C_POS.indexOf(v); return i >= 0 ? C_TEMP_LABELS[i] : ''; } },
          afterBuildTicks: (s: any) => { s.ticks = C_POS.map((v) => ({ value: v })); },
          afterFit: (s: any) => { s.height = 39; },
        },
        y: {
          type: 'linear', min: -1.62, max: 1.57, ...axisCommon,
          ticks: { ...axisCommon.ticks, padding: 3 },
          afterBuildTicks: (s: any) => { s.ticks = C_YTICKS.map((v) => ({ value: v })); },
          afterFit: (s: any) => { s.width = 89; },
        },
      },
    },
    plugins: [plugin],
  };
}

/* ================= Panel D configs ================= */
function makeTrack(points: number[][], color: string, kbMax: number, range: string, padTop: number, bar: any) {
  const plugin = {
    id: 'trackBg',
    beforeDraw(chart: any) {
      const { ctx, chartArea, width, height } = chart;
      ctx.save();
      ctx.fillStyle = '#f6f6f6';
      ctx.fillRect(0, chartArea.top - 1, width, chartArea.bottom - chartArea.top + 1);
      ctx.fillStyle = '#c4c4c4';
      ctx.fillRect(0, chartArea.top - 1, width, 1);
      ctx.fillStyle = '#a8a8a8';
      ctx.fillRect(0, height - 3, width, 2);
      ctx.restore();
    },
    afterDraw(chart: any) {
      const { ctx, chartArea, scales } = chart;
      ctx.save();
      ctx.fillStyle = '#777';
      ctx.font = `5px ${FONT}`;
      ctx.textBaseline = 'top';
      ctx.fillText(range, 3, chartArea.top + 1);
      if (bar) {
        const x0 = scales.x.getPixelForValue(0) + 0.5;
        const x1 = scales.x.getPixelForValue(bar.kb);
        const yb = Math.round(chartArea.top - 1 - bar.barAbove) + 0.5;
        ctx.strokeStyle = '#222';
        ctx.lineWidth = 1.5;
        ctx.beginPath();
        ctx.moveTo(x0, yb); ctx.lineTo(x1, yb);
        ctx.moveTo(x0, yb - 3.5); ctx.lineTo(x0, yb + 3.5);
        ctx.moveTo(x1, yb - 3.5); ctx.lineTo(x1, yb + 3.5);
        ctx.stroke();
        drawRich(ctx, [{ t: bar.label }], (x0 + x1) / 2, chartArea.top - 1 - bar.textAbove, 14, 0, 'center', '#111');
      }
      ctx.restore();
    },
  };
  return {
    type: 'line',
    data: {
      datasets: [{
        data: points.map(([x, y]) => ({ x, y })),
        borderColor: color,
        borderWidth: 0.8,
        backgroundColor: color,
        fill: 'origin',
        pointRadius: 0,
        tension: 0,
      }],
    },
    options: {
      ...baseOptions(),
      layout: { padding: { left: 0, right: 0, top: padTop, bottom: 4 } },
      scales: {
        x: { type: 'linear', display: false, min: 0, max: kbMax },
        y: { type: 'linear', display: false, min: 0, max: 100 },
      },
    },
    plugins: [plugin],
  };
}

function makeGenes(names: string[], starts: number[], ends: number[], arrows: string[], rows: number[], kbMax: number, pxPerRow: number, h: number) {
  const datasets = names.map((n, i) => ({
    data: [{ x: starts[i], y: rows[i] }, { x: ends[i], y: rows[i] }],
    borderColor: '#333',
    borderWidth: 1.5,
    pointRadius: 0,
    fill: false,
    clip: false,
    tension: 0,
  }));
  const plugin = {
    id: 'genes',
    afterDatasetsDraw(chart: any) {
      const { ctx, scales } = chart;
      const lo = scales.x.getPixelForValue(0);
      const hi = scales.x.getPixelForValue(kbMax);
      ctx.save();
      ctx.fillStyle = '#333';
      ctx.strokeStyle = '#333';
      ctx.lineWidth = 1.5;
      names.forEach((n, i) => {
        const pts = chart.getDatasetMeta(i).data;
        const x0 = pts[0].x, x1 = pts[1].x, yy = pts[0].y;
        const head = (px: number, dir: number) => {
          ctx.beginPath();
          ctx.moveTo(px, yy);
          ctx.lineTo(px - dir * 6, yy - 3.5);
          ctx.lineTo(px - dir * 6, yy + 3.5);
          ctx.closePath();
          ctx.fill();
        };
        const tick = (px: number) => {
          ctx.beginPath();
          ctx.moveTo(px, yy - 4);
          ctx.lineTo(px, yy + 4);
          ctx.stroke();
        };
        if (arrows[i] === 'R') head(x1, 1); else if (x1 <= hi + 0.5) tick(x1);
        if (arrows[i] === 'L') head(x0, -1); else if (x0 >= lo - 0.5) tick(x0);
        const cx = (Math.max(x0, lo) + Math.min(x1, hi)) / 2 - 3;
        drawRich(ctx, [{ t: n, italic: true }], cx, yy + 12.5, 14.5, 0, 'center', '#111');
      });
      ctx.restore();
    },
  };
  return {
    type: 'line',
    data: { datasets },
    options: {
      ...baseOptions(),
      layout: { padding: { left: 64, right: 0, top: 0, bottom: 0 } },
      scales: {
        x: { type: 'linear', display: false, min: 0, max: kbMax },
        y: { type: 'linear', display: false, min: 0, max: h / pxPerRow, reverse: true },
      },
    },
    plugins: [plugin],
  };
}

const REGIONS = [
  {
    kbMax: 11.16, tops: [339, 380, 419], bases: [376, 416, 456], covs: [R1_COV_14, R1_COV_25, R1_COV_29], ranges: R1_RANGES,
    bar: { kb: 1, label: '1 kb', barAbove: 7.6, textAbove: 16.6 }, extra: 28,
    genes: { names: R1_GENE_NAMES, start: R1_GENE_START, end: R1_GENE_END, arrow: R1_GENE_ARROW, row: R1_GENE_ROW, top: 441, h: 54, ppr: 27 },
  },
  {
    kbMax: 13.48, tops: [505, 545, 584], bases: [541, 580, 620], covs: [R2_COV_14, R2_COV_25, R2_COV_29], ranges: R2_RANGES,
    bar: { kb: 1, label: '1 kb', barAbove: 8.3, textAbove: 17 }, extra: 28,
    genes: { names: R2_GENE_NAMES, start: R2_GENE_START, end: R2_GENE_END, arrow: R2_GENE_ARROW, row: R2_GENE_ROW, top: 605, h: 80, ppr: 26.6 },
  },
  {
    kbMax: 55.8, tops: [706, 745, 785], bases: [741, 780, 820], covs: [R3_COV_14, R3_COV_25, R3_COV_29], ranges: R3_RANGES,
    bar: { kb: 5, label: '5 kb', barAbove: 14.3, textAbove: 22.5 }, extra: 31,
    genes: { names: R3_GENE_NAMES, start: R3_GENE_START, end: R3_GENE_END, arrow: R3_GENE_ARROW, row: R3_GENE_ROW, top: 807, h: 105, ppr: 26 },
  },
];

function Letter({ ch, x, y, size }: any) {
  return (
    <div style={{ position: 'absolute', left: x, top: y, fontFamily: FONT, fontWeight: 'bold', fontSize: size, lineHeight: 1, color: '#000' }}>{ch}</div>
  );
}

export default function App() {
  return (
    <div style={{ position: 'absolute', left: 0, top: 0, width: 685, height: 912, background: '#fff', overflow: 'hidden', fontFamily: FONT }}>
      <Letter ch="A" x={0} y={2.6} size={34} />
      <Letter ch="B" x={293} y={2.8} size={32} />
      <Letter ch="C" x={2} y={140.6} size={34} />
      <Letter ch="D" x={0} y={311} size={29} />

      <ChartCanvas x={0} y={0} w={290} h={135} make={makeA} />
      <ChartCanvas x={290} y={0} w={395} h={270} make={makeB} />
      <ChartCanvas x={0} y={135} w={290} h={180} make={makeC} />

      {REGIONS.map((r, ri) => (
        <React.Fragment key={ri}>
          <ChartCanvas x={0} y={r.genes.top} w={685} h={r.genes.h}
            make={() => makeGenes(r.genes.names, r.genes.start, r.genes.end, r.genes.arrow, r.genes.row, r.kbMax, r.genes.ppr, r.genes.h)} />
          {r.tops.map((t, ti) => {
            const first = ti === 0;
            const top = first ? t - r.extra : t;
            const pad = first ? r.extra + 1 : 1;
            const h = r.bases[ti] - top + 4;
            return (
              <React.Fragment key={ti}>
                <div style={{
                  position: 'absolute', left: 0, top: t + 1, width: 58, height: r.bases[ti] - t - 1,
                  boxSizing: 'border-box', border: '2px solid #666', background: TEMP_BOX_COLORS[ti],
                  color: '#fff', fontSize: 16, display: 'flex', alignItems: 'center', justifyContent: 'center',
                }}>{TEMP_NAMES[ti]}</div>
                <ChartCanvas x={64} y={top} w={621} h={h}
                  make={() => makeTrack(r.covs[ti], TEMP_COV_COLORS[ti], r.kbMax, r.ranges[ti], pad, first ? r.bar : null)} />
              </React.Fragment>
            );
          })}
        </React.Fragment>
      ))}

      <svg style={{ position: 'absolute', left: 637, top: 695, width: 22, height: 152 }} width={22} height={152}>
        <rect x={1.5} y={1.5} width={19} height={149} fill="none" stroke="#e8262b" strokeWidth={2} strokeDasharray="8 5" />
      </svg>
    </div>
  );
}
